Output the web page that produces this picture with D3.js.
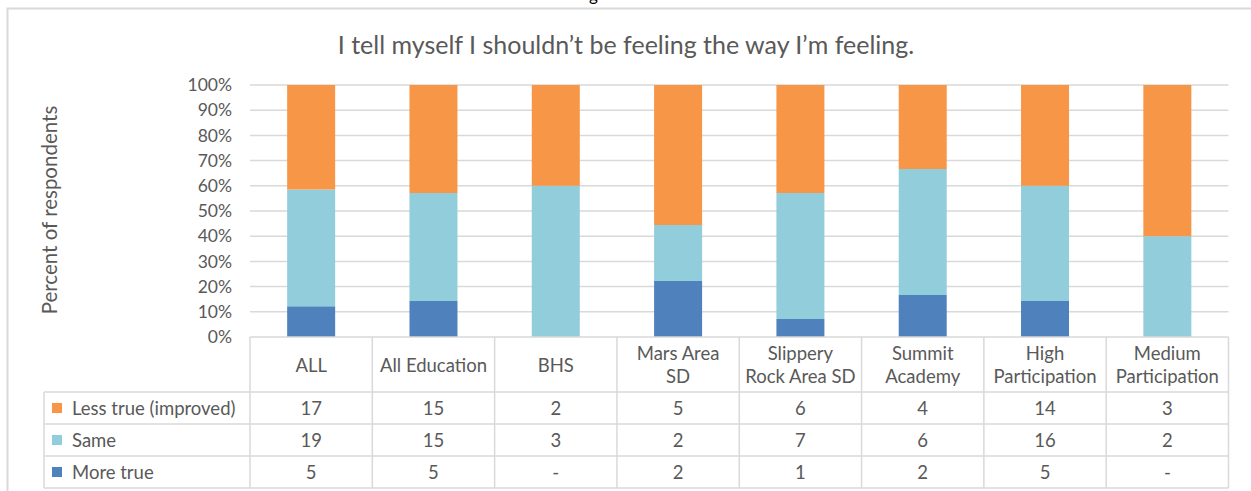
<!DOCTYPE html>
<html>
<head>
<meta charset="utf-8">
<script src="https://cdn.jsdelivr.net/npm/d3@7"></script>
<style>
  body { margin: 0; background: #fff; }
  text { font-family: Lato, "Open Sans", sans-serif; fill: #595959; }
</style>
</head>
<body>
<script>
// chart data
const categories = [["ALL"], ["All Education"], ["BHS"], ["Mars Area", "SD"], ["Slippery", "Rock Area SD"],
  ["Summit", "Academy"], ["High", "Participation"], ["Medium", "Participation"]];
const seriesNames = ["Less true (improved)", "Same", "More true"];
const lessTrue = [17, 15, 2, 5, 6, 4, 14, 3];
const same = [19, 15, 3, 2, 7, 6, 16, 2];
const moreTrue = [5, 5, 0, 2, 1, 2, 5, 0];
const yTicks = [0, 0.1, 0.2, 0.3, 0.4, 0.5, 0.6, 0.7, 0.8, 0.9, 1];
const colors = { "Less true (improved)": "#f79646", "Same": "#92cddc", "More true": "#4f81bd" };

const W = 1251, H = 491;
const plot = { left: 250, right: 1228.5, top: 85, bottom: 337 };
const rowH = 32, headerH = 55;
const fs = "18.5px";

const svg = d3.select("body").append("svg").attr("width", W).attr("height", H);

// clipped text from the page above
svg.append("text").attr("x", 589).attr("y", 1).style("fill", "#000")
  .style("font-size", "17px").text("g");

// outer border
svg.append("rect").attr("x", 7.5).attr("y", 8.5).attr("width", 1250).attr("height", 500)
  .attr("fill", "none").attr("stroke", "#d9d9d9").attr("stroke-width", 2);

svg.append("text").attr("x", 626).attr("y", 54).attr("text-anchor", "middle")
  .style("font-size", "25px").text("I tell myself I shouldn’t be feeling the way I’m feeling.");

const labels = categories.map(c => c.join(" "));
const x = d3.scaleBand().domain(labels).range([plot.left, plot.right]).paddingInner(0).paddingOuter(0);
const y = d3.scaleLinear().domain([0, 1]).range([plot.bottom, plot.top]);

// gridlines
svg.append("g").selectAll("line").data(yTicks.slice(1)).join("line")
  .attr("x1", plot.left).attr("x2", plot.right)
  .attr("y1", d => y(d)).attr("y2", d => y(d))
  .attr("stroke", "#d9d9d9").attr("stroke-width", 1.5);

// y axis
const yAxis = svg.append("g").attr("transform", `translate(${plot.left},0)`)
  .call(d3.axisLeft(y).tickValues(yTicks).tickFormat(d3.format(".0%")).tickSize(0).tickPadding(18));
yAxis.select(".domain").remove();
yAxis.selectAll("text").style("font-size", "17.5px").style("fill", "#595959").style("font-family", "Lato, sans-serif");

svg.append("text").attr("transform", "translate(57,210) rotate(-90)").attr("text-anchor", "middle")
  .style("font-size", "20.5px").text("Percent of respondents");

// stacked bars
const rows = labels.map((l, i) => ({ cat: l, "More true": moreTrue[i], "Same": same[i], "Less true (improved)": lessTrue[i] }));
const stack = d3.stack().keys(["More true", "Same", "Less true (improved)"]).offset(d3.stackOffsetExpand);
const barW = 48;
svg.append("g").selectAll("g").data(stack(rows)).join("g")
  .attr("fill", d => colors[d.key])
  .selectAll("rect").data(d => d).join("rect")
  .attr("x", d => x(d.data.cat) + x.bandwidth() / 2 - barW / 2)
  .attr("width", barW)
  .attr("y", d => y(d[1]))
  .attr("height", d => y(d[0]) - y(d[1]));

// data table
const tbl = svg.append("g");
const lineCol = "#d9d9d9";
const tableTop = plot.bottom, tableBottom = tableTop + headerH + rowH * 3;
const legendLeft = 44;

// horizontal lines
tbl.append("line").attr("x1", plot.left).attr("x2", plot.right)
  .attr("y1", tableTop).attr("y2", tableTop).attr("stroke", lineCol).attr("stroke-width", 1.5);
[0, 1, 2, 3].forEach(i => {
  const yy = tableTop + headerH + i * rowH;
  tbl.append("line").attr("x1", legendLeft).attr("x2", plot.right)
    .attr("y1", yy).attr("y2", yy).attr("stroke", lineCol).attr("stroke-width", 1.5);
});
// vertical lines
labels.forEach(l => tbl.append("line").attr("x1", x(l)).attr("x2", x(l))
  .attr("y1", tableTop).attr("y2", tableBottom).attr("stroke", lineCol).attr("stroke-width", 1.5));
tbl.append("line").attr("x1", plot.right).attr("x2", plot.right)
  .attr("y1", tableTop).attr("y2", tableBottom).attr("stroke", lineCol).attr("stroke-width", 1.5);
tbl.append("line").attr("x1", legendLeft).attr("x2", legendLeft)
  .attr("y1", tableTop + headerH).attr("y2", tableBottom).attr("stroke", lineCol).attr("stroke-width", 1.5);

// header labels
categories.forEach((c, i) => {
  const cx = x(labels[i]) + x.bandwidth() / 2;
  const t = tbl.append("text").attr("text-anchor", "middle").style("font-size", fs);
  const y0 = c.length === 1 ? tableTop + headerH / 2 + 7 : tableTop + headerH / 2 - 4.5;
  c.forEach((line, j) => t.append("tspan").attr("x", cx).attr("y", y0 + j * 23).text(line));
});

// rows
const values = [lessTrue, same, moreTrue];
seriesNames.forEach((name, r) => {
  const cy = tableTop + headerH + r * rowH + rowH / 2;
  tbl.append("rect").attr("x", 52).attr("y", cy - 5).attr("width", 10).attr("height", 10).attr("fill", colors[name]);
  tbl.append("text").attr("x", 72).attr("y", cy + 6.5).style("font-size", fs).text(name);
  values[r].forEach((v, i) => {
    tbl.append("text").attr("x", x(labels[i]) + x.bandwidth() / 2).attr("y", cy + 6.5)
      .attr("text-anchor", "middle").style("font-size", fs).text(v === 0 ? "-" : v);
  });
});
</script>
</body>
</html>
